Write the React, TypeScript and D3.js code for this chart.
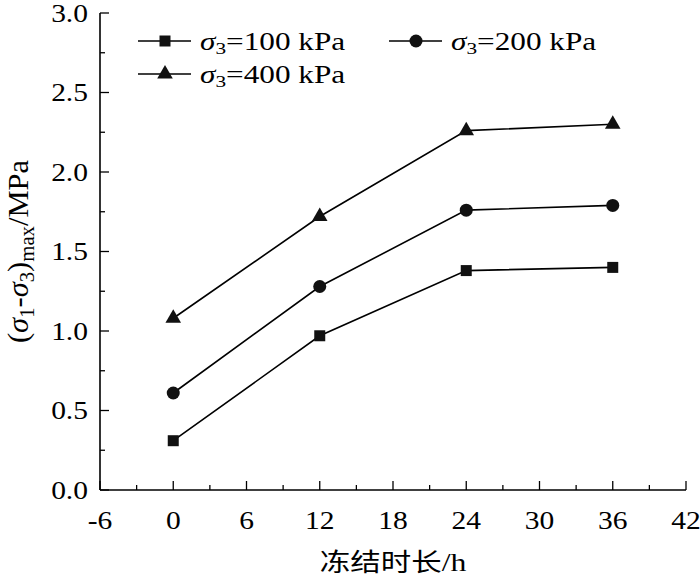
import React from 'react';
import * as d3 from 'd3';

const hours = [0, 12, 24, 36];
const s100 = [0.31, 0.97, 1.38, 1.40];
const s200 = [0.61, 1.28, 1.76, 1.79];
const s400 = [1.08, 1.72, 2.26, 2.30];
const xTicks = [-6, 0, 6, 12, 18, 24, 30, 36, 42];
const yTicks = [0, 0.5, 1.0, 1.5, 2.0, 2.5, 3.0];

const series = [
  { name: '100', values: s100, symbol: d3.symbolSquare, size: 121 },
  { name: '200', values: s200, symbol: d3.symbolCircle, size: 133 },
  { name: '400', values: s400, symbol: d3.symbolTriangle, size: 105 },
];

const W = 700;
const H = 578;
const SX = 1.18; // the figure text is a bit wider than plain Times
const serif = '"Liberation Serif", "Times New Roman", serif';
const cjk = '"Noto Sans CJK SC", sans-serif';

const App: React.FC = () => {
  const x = d3.scaleLinear().domain([-6, 42]).range([100, 686]);
  const y = d3.scaleLinear().domain([0, 3]).range([490, 13]);

  const xMinor = d3.range(-3, 42, 6);
  const yMinor = d3.range(0.25, 3, 0.5);

  const line = d3.line<number>()
    .x((_, i) => x(hours[i]))
    .y(d => y(d));

  const legend = [
    { s: series[0], lx: 138, ly: 41 },
    { s: series[1], lx: 389, ly: 41 },
    { s: series[2], lx: 138, ly: 74 },
  ];

  return (
    <div style={{ position: 'absolute', left: 0, top: 0 }}>
      <svg width={W} height={H} style={{ display: 'block', background: '#fff' }}>
        {/* axes */}
        <line x1={x(-6)} x2={x(42)} y1={y(0)} y2={y(0)} stroke="#000" strokeWidth={1.6} />
        <line x1={x(-6)} x2={x(-6)} y1={y(0)} y2={y(3)} stroke="#000" strokeWidth={1.6} />
        {xTicks.map(t => (
          <line key={'xt' + t} x1={x(t)} x2={x(t)} y1={y(0)} y2={y(0) - 9} stroke="#000" strokeWidth={1.3} />
        ))}
        {xMinor.map(t => (
          <line key={'xm' + t} x1={x(t)} x2={x(t)} y1={y(0)} y2={y(0) - 5} stroke="#000" strokeWidth={1.3} />
        ))}
        {yTicks.map(t => (
          <line key={'yt' + t} x1={x(-6)} x2={x(-6) + 9} y1={y(t)} y2={y(t)} stroke="#000" strokeWidth={1.3} />
        ))}
        {yMinor.map(t => (
          <line key={'ym' + t} x1={x(-6)} x2={x(-6) + 5} y1={y(t)} y2={y(t)} stroke="#000" strokeWidth={1.3} />
        ))}

        {/* tick labels */}
        {xTicks.map(t => (
          <text key={'xl' + t} transform={`translate(${x(t)},${y(0) + 39}) scale(${SX},1)`}
            textAnchor="middle" fontFamily={serif} fontSize={25} fill="#000">{t}</text>
        ))}
        {yTicks.map(t => (
          <text key={'yl' + t} transform={`translate(88,${y(t) + 8.5}) scale(${SX},1)`}
            textAnchor="end" fontFamily={serif} fontSize={25} fill="#000">{t.toFixed(1)}</text>
        ))}

        {/* axis titles */}
        <text transform={`translate(${(x(-6) + x(42)) / 2},571) scale(1.22,1)`} textAnchor="middle" fill="#000">
          <tspan fontFamily={cjk} fontSize={25}>冻结时长</tspan>
          <tspan fontFamily={serif} fontSize={26}>/h</tspan>
        </text>
        <text transform={`translate(28,${(y(0) + y(3)) / 2}) rotate(-90) scale(1.22,${SX})`}
          textAnchor="middle" fontFamily={serif} fontSize={25} fill="#000">
          (<tspan fontStyle="italic">σ</tspan><tspan fontSize={17} dy={5}>1</tspan>
          <tspan dy={-5}>-</tspan><tspan fontStyle="italic">σ</tspan><tspan fontSize={17} dy={5}>3</tspan>
          <tspan dy={-5}>)</tspan><tspan fontSize={17} dy={5}>max</tspan>
          <tspan dy={-5}>/MPa</tspan>
        </text>

        {/* series */}
        {series.map(s => (
          <g key={s.name}>
            <path d={line(s.values) || ''} fill="none" stroke="#000" strokeWidth={1.6} />
            {s.values.map((v, i) => (
              <path key={i} transform={`translate(${x(hours[i])},${y(v)})`}
                d={d3.symbol(s.symbol, s.size)() || ''} fill="#111" />
            ))}
          </g>
        ))}

        {/* legend */}
        {legend.map(({ s, lx, ly }) => (
          <g key={'lg' + s.name}>
            <line x1={lx} x2={lx + 53} y1={ly} y2={ly} stroke="#000" strokeWidth={1.6} />
            <path transform={`translate(${lx + 27},${ly})`} d={d3.symbol(s.symbol, s.size)() || ''} fill="#111" />
            <text transform={`translate(${lx + 62},${ly + 8.5}) scale(1.25,1)`} fontFamily={serif} fontSize={25} fill="#000">
              <tspan fontStyle="italic">σ</tspan><tspan fontSize={17} dy={4}>3</tspan>
              <tspan dy={-4}>={s.name} kPa</tspan>
            </text>
          </g>
        ))}
      </svg>
    </div>
  );
};

export default App;
